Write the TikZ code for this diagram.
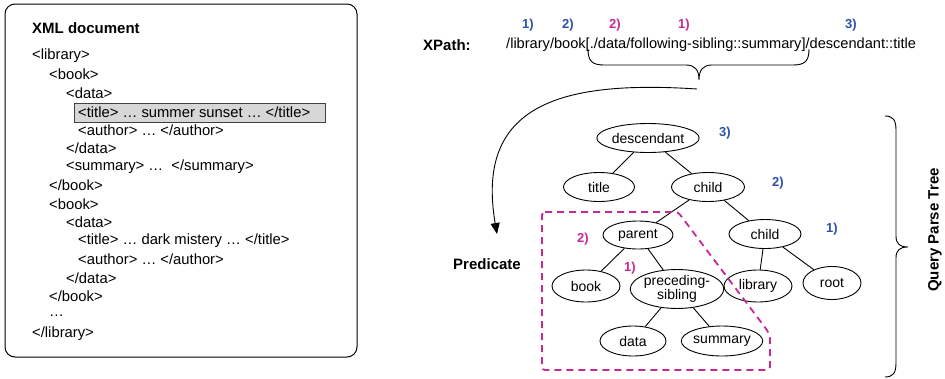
\documentclass[tikz,border=0pt]{standalone}
\usepackage{fontspec}
\setmainfont{Liberation Sans}
\usetikzlibrary{shapes.geometric,arrows.meta}
\definecolor{lblblue}{RGB}{45,80,170}
\definecolor{lblmag}{RGB}{200,40,150}
\definecolor{hlgray}{RGB}{215,215,215}
\tikzset{
  txt/.style={anchor=west,inner sep=0pt,font=\fontsize{14.8}{17}\selectfont},
  ttl/.style={inner sep=0pt,font=\fontsize{15}{17}\selectfont\bfseries},
  tn/.style={draw,ellipse,line width=0.9pt,inner sep=0pt,font=\fontsize{14}{16}\selectfont,minimum height=29pt},
  bl/.style={inner sep=0pt,text=lblblue,font=\fontsize{13}{15}\selectfont\bfseries},
  mg/.style={inner sep=0pt,text=lblmag,font=\fontsize{13}{15}\selectfont\bfseries},
  edge/.style={line width=0.9pt},
}
\begin{document}
\begin{tikzpicture}[x=1pt,y=-1pt]
\useasboundingbox (0,0) rectangle (945,378);
% XML document box
\draw[line width=1pt,rounded corners=10pt] (5,4) rectangle (357,357);
\node[ttl,anchor=west] (xmlt) at (32,28) {XML document};
\draw[fill=hlgray,draw=black!75,line width=0.9pt] (74,103) rectangle (325,122);
\node[txt] (l1) at (32,56) {<library>};
\node[txt] (l2) at (49,74.5) {<book>};
\node[txt] (l3) at (66,93) {<data>};
\node[txt] (l4) at (78,112) {<title> … summer sunset … </title>};
\node[txt] (l5) at (78,130.5) {<author> … </author>};
\node[txt] (l6) at (66,148.5) {</data>};
\node[txt] (l7) at (66,167) {<summary> …\ \ </summary>};
\node[txt] (l8) at (49,185.5) {</book>};
\node[txt] (l9) at (49,204) {<book>};
\node[txt] (l10) at (66,222.5) {<data>};
\node[txt] (l11) at (78,241) {<title> … dark mistery … </title>};
\node[txt] (l12) at (78,259.5) {<author> … </author>};
\node[txt] (l13) at (66,278) {</data>};
\node[txt] (l14) at (49,296.5) {</book>};
\node[txt] (l15) at (49,316) {…};
\node[txt] (l16) at (32,333.5) {</library>};
% XPath
\node[ttl,anchor=west] (xp) at (423,45) {XPath:};
\node[txt,font=\fontsize{14.6}{17}\selectfont] (path) at (506,45) {/library/book[./data/following-sibling::summary]/descendant::title};
\node[bl] (b1) at (528,25) {1)};
\node[bl] (b2) at (568,25) {2)};
\node[mg] (m2) at (615,25) {2)};
\node[mg] (m1) at (684,25) {1)};
\node[bl] (b3) at (851,25) {3)};
% top brace
\draw[line width=0.9pt] (588,49) .. controls (588,61) and (592,65) .. (604,65) -- (686,65) .. controls (695,65) and (699,70) .. (699,80)
  (809,49) .. controls (809,61) and (805,65) .. (793,65) -- (712,65) .. controls (703,65) and (699,70) .. (699,80);
\coordinate (bt) at (697,89);
% predicate
\node[ttl] (pred) at (487,264) {Predicate};
\coordinate (at) at (497,234);
\draw[line width=0.9pt,-{Triangle[length=11pt,width=9pt]}] (bt) .. controls (560,80) and (475,105) .. (at);
% tree
\node[tn,minimum width=97pt] (desc) at (648,138) {descendant};
\node[tn,minimum width=71pt] (title) at (599,187) {title};
\node[tn,minimum width=73pt] (child1) at (708,187) {child};
\node[tn,minimum width=70pt,minimum height=28pt] (parent) at (638,235) {parent};
\node[tn,minimum width=72pt] (child2) at (765,234) {child};
\node[tn,minimum width=68pt,minimum height=32pt] (book) at (586,286) {book};
\node[tn,minimum width=85pt,minimum height=38pt,align=center,font=\fontsize{14}{14.5}\selectfont] (prec) at (677,289) {preceding-\\sibling};
\node[tn,minimum width=68pt,minimum height=32pt] (lib) at (758,286) {library};
\node[tn,minimum width=58pt,minimum height=33pt] (root) at (832,283) {root};
\node[tn,minimum width=66pt,minimum height=30pt] (data) at (633,341) {data};
\node[tn,minimum width=77pt,minimum height=30pt] (summ) at (722,341) {summary};
\draw[edge] (desc) -- (title);
\draw[edge] (desc) -- (child1);
\draw[edge] (child1) -- (parent);
\draw[edge] (child1) -- (child2);
\draw[edge] (parent) -- (book);
\draw[edge] (parent) -- (prec);
\draw[edge] (prec) -- (data);
\draw[edge] (prec) -- (summ);
\draw[edge] (child2) -- (lib);
\draw[edge] (child2) -- (root);
\node[bl] (t3) at (725,133) {3)};
\node[bl] (t2) at (778,183) {2)};
\node[bl] (t1) at (832,229) {1)};
\node[mg] (p2) at (583,239) {2)};
\node[mg] (p1) at (630,268) {1)};
% dashed predicate region
\draw[lblmag,line width=1.8pt,dash pattern=on 7pt off 5pt,rounded corners=3pt] (542,212) -- (678,212) -- (767,330) -- (770,336) -- (770,370) -- (542,370) -- cycle;
% right brace
\draw[line width=0.9pt] (885,116) .. controls (893,116) and (896,120) .. (896,130) -- (896,236) .. controls (896,244) and (900,247) .. (908,247)
  (885,377) .. controls (893,377) and (896,373) .. (896,363) -- (896,258) .. controls (896,250) and (900,247) .. (908,247);
\node[ttl,rotate=90] (qpt) at (935,230) {Query Parse Tree};
\end{tikzpicture}
\end{document}
